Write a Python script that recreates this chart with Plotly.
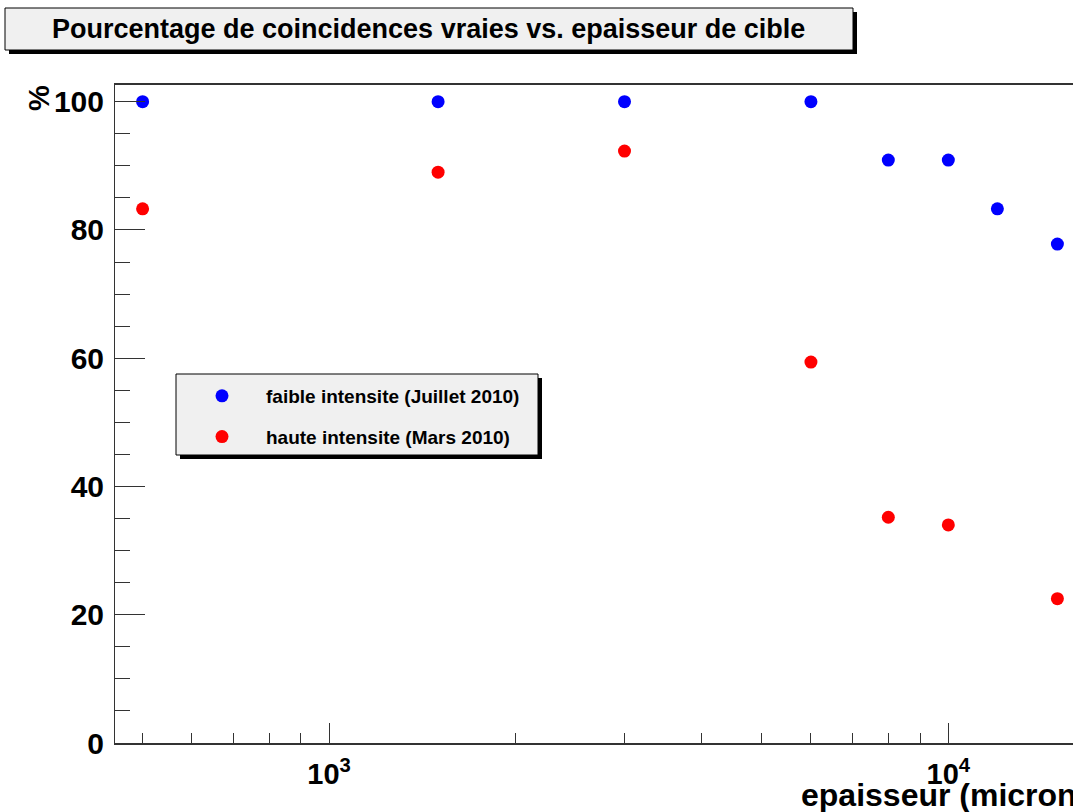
import plotly.graph_objects as go

# data
thickness_low = [500, 1500, 3000, 6000, 8000, 10000, 12000, 15000]
pct_low = [100, 100, 100, 100, 90.9, 90.9, 83.3, 77.8]
thickness_high = [500, 1500, 3000, 6000, 8000, 10000, 15000]
pct_high = [83.3, 89.0, 92.3, 59.4, 35.2, 34.0, 22.5]
name_low = "faible intensite (Juillet 2010)"
name_high = "haute intensite (Mars 2010)"
title_text = "Pourcentage de coincidences vraies vs. epaisseur de cible"
x_title = "epaisseur (micron)"
y_title = "%"
x_tickvals = [1000, 10000]
x_ticktext = ["10<sup>3</sup>", "10<sup>4</sup>"]

W, H = 1073, 812
L, R, T, B = 115, 0, 85, 69
pw, ph = W - L - R, H - T - B


def px(x):
    return (x - L) / pw


def py(y):
    return (H - B - y) / ph


FONT = "Liberation Sans, Arial, Helvetica, sans-serif"
AX = "#333333"

fig = go.Figure()
fig.add_trace(go.Scatter(x=thickness_low, y=pct_low, mode="markers", name=name_low,
                         legendgroup="a",
                         marker=dict(color="#0000ff", size=13)))
fig.add_trace(go.Scatter(x=thickness_high, y=pct_high, mode="markers", name=name_high,
                         legendgroup="b",
                         marker=dict(color="#ff0000", size=13)))

shapes = [
    # title box shadow + box
    dict(type="rect", xref="paper", yref="paper", x0=px(9), x1=px(857), y0=py(12), y1=py(54),
         fillcolor="#000000", line=dict(width=0), layer="below"),
    dict(type="rect", xref="paper", yref="paper", x0=px(5), x1=px(853), y0=py(8), y1=py(50),
         fillcolor="#f0f0f0", line=dict(color="#000000", width=1), layer="below"),
    # legend box shadow + box
    dict(type="rect", xref="paper", yref="paper", x0=px(180), x1=px(542), y0=py(378), y1=py(459),
         fillcolor="#000000", line=dict(width=0), layer="below"),
    dict(type="rect", xref="paper", yref="paper", x0=px(176), x1=px(538), y0=py(374), y1=py(455),
         fillcolor="#f0f0f0", line=dict(color="#000000", width=1), layer="below"),
]

annotations = [
    dict(text="<b>%s</b>" % title_text, xref="paper", yref="paper", x=px(428), y=py(29),
         xanchor="center", yanchor="middle", showarrow=False,
         font=dict(family=FONT, size=27, color="#000000")),
    dict(text="<b>%s</b>" % x_title, xref="paper", yref="paper", x=px(799), y=py(795),
         xanchor="left", yanchor="middle", showarrow=False,
         font=dict(family=FONT, size=32, color="#000000")),
    dict(text="<b>%s</b>" % y_title, xref="paper", yref="paper", x=px(39), y=py(98),
         xanchor="center", yanchor="middle", showarrow=False, textangle=-90,
         font=dict(family=FONT, size=29, color="#000000")),
]

fig.update_layout(
    width=W, height=H,
    margin=dict(l=L, r=R, t=T, b=B, pad=0),
    paper_bgcolor="#ffffff", plot_bgcolor="#ffffff",
    shapes=shapes, annotations=annotations,
    showlegend=True,
    legend=dict(x=px(178), y=py(377), xanchor="left", yanchor="top",
                bgcolor="rgba(0,0,0,0)", borderwidth=0,
                font=dict(family=FONT, size=19, color="#000000", weight="bold"),
                tracegroupgap=13, itemwidth=78),
    xaxis=dict(type="log", range=[2.6544, 4.2013],
               tickvals=x_tickvals, ticktext=x_ticktext,
               ticks="inside", ticklen=20, tickwidth=1, tickcolor=AX,
               showline=True, linecolor=AX, linewidth=2, mirror=True,
               showgrid=False, zeroline=False,
               tickfont=dict(family=FONT, size=29, color="#000000", weight="bold"),
               ticklabelstandoff=4,
               minor=dict(ticks="inside", ticklen=10, tickwidth=1, tickcolor=AX,
                          dtick="D1", showgrid=False)),
    yaxis=dict(range=[0, 102.6], tickvals=[0, 20, 40, 60, 80, 100],
               ticks="inside", ticklen=30, tickwidth=1, tickcolor=AX,
               showline=True, linecolor=AX, linewidth=1, mirror=False,
               showgrid=False, zeroline=False,
               tickfont=dict(family=FONT, size=30, color="#000000", weight="bold"),
               ticklabelstandoff=4,
               minor=dict(ticks="inside", ticklen=15, tickwidth=1, tickcolor=AX,
                          dtick=5, showgrid=False)),
)

fig.write_html("out.html", config={"displayModeBar": False},
               post_script="document.body.style.margin='0';")
